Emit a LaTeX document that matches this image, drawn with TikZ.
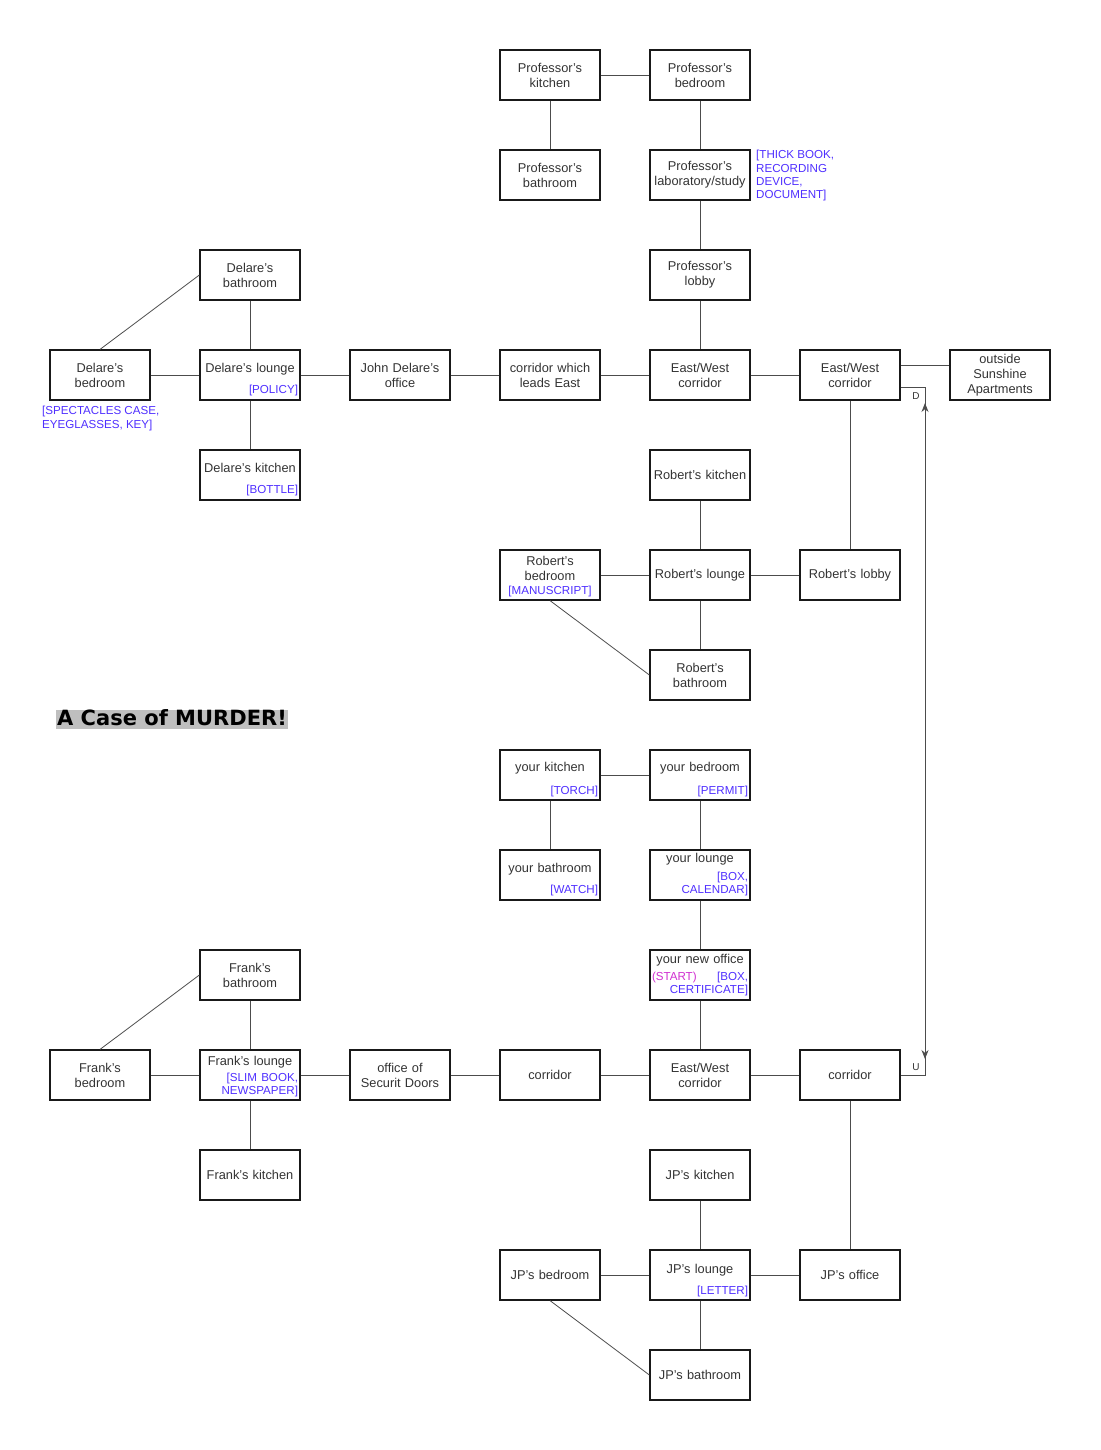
\documentclass[tikz,border=0pt]{standalone}
\usepackage{fontspec}
\setmainfont{Liberation Sans}
\newfontfamily\titlefont{DejaVu Sans}
\usetikzlibrary{arrows.meta}
\definecolor{itemblue}{HTML}{4F2FFF}
\definecolor{startpink}{HTML}{D030D0}
\newcommand{\namefont}{\fontsize{12.8}{15}\selectfont}
\newcommand{\itemfont}{\fontsize{11.6}{13.4}\selectfont}
\newcommand{\things}[1]{\hspace*{\fill}\textcolor{itemblue}{\itemfont #1}}
\newcommand{\lift}[1]{\rule{0pt}{#1pt}}

\begin{document}
\begin{tikzpicture}[x=1pt,y=-1pt,
  room/.style={draw=black!90,line width=1.2pt,minimum width=100pt,minimum height=50pt,
    text width=96pt,inner sep=2pt,align=center,text=black!80,font=\namefont},
  link/.style={draw=black!70,line width=0.8pt},
  loot/.style={text=itemblue,font=\itemfont,align=left,inner sep=0pt},
  title/.style={fill=black!25,font=\titlefont\bfseries\fontsize{21}{21}\selectfont,
    inner xsep=1pt,inner ysep=1pt,text height=15pt,text depth=2pt}]
\useasboundingbox (0,0) rectangle (1100,1450);
%\draw[help lines,step=50] (0,0) grid (1100,1450);

% upper block
\node[room] (pk) at (550,75) {Professor's\\kitchen};
\node[room] (pb) at (700,75) {Professor's\\bedroom};
\node[room] (pba) at (550,175) {Professor's\\bathroom};
\node[room] (plab) at (700,175) {Professor's\\laboratory/study};
\node[loot,anchor=north west] (plabx) at (756,150) {[THICK BOOK,\\RECORDING\\DEVICE,\\DOCUMENT]};
\node[room] (plob) at (700,275) {Professor's\\lobby};
\node[room] (dba) at (250,275) {Delare's\\bathroom};
\node[room] (dbed) at (100,375) {Delare's\\bedroom};
\node[loot,anchor=north west] (dbedx) at (42,406) {[SPECTACLES CASE,\\EYEGLASSES, KEY]};
\node[room] (dl) at (250,375) {\lift{19}Delare's lounge\\[6pt]\things{[POLICY]}};
\node[room] (jdo) at (400,375) {John Delare's\\office};
\node[room] (ce) at (550,375) {corridor which\\leads East};
\node[room] (ew1) at (700,375) {East/West\\corridor};
\node[room] (ew2) at (850,375) {East/West\\corridor};
\node[room] (out) at (1000,375) {outside\\Sunshine\\Apartments};
\node[room] (dk) at (250,475) {\lift{19}Delare's kitchen\\[6pt]\things{[BOTTLE]}};
\node[room] (rk) at (700,475) {Robert's kitchen};
\node[room] (rbed) at (550,575) {\lift{13}Robert's\\bedroom\\[-1pt]\textcolor{itemblue}{\itemfont[MANUSCRIPT]}};
\node[room] (rl) at (700,575) {Robert's lounge};
\node[room] (rlob) at (850,575) {Robert's lobby};
\node[room] (rba) at (700,675) {Robert's\\bathroom};

\draw[link] (pk) -- (pb);
\draw[link] (pk) -- (pba);
\draw[link] (pb) -- (plab) -- (plob) -- (ew1);
\draw[link] (dbed.north) -- (dba.west);
\draw[link] (dba) -- (dl) -- (dk);
\draw[link] (dbed) -- (dl) -- (jdo) -- (ce) -- (ew1) -- (ew2);
\draw[link] ([yshift=10pt]ew2.east) -- ([yshift=10pt]ew2.east -| out.west);
\draw[link] (ew2) -- (rlob);
\draw[link] (rk) -- (rl) -- (rba);
\draw[link] (rbed) -- (rl) -- (rlob);
\draw[link] (rbed.south) -- (rba.west);

\node[title] (ttl) at (172,719) {A Case of MURDER!};

% lower block
\node[room] (yk) at (550,775) {\lift{19}your kitchen\\[8pt]\things{[TORCH]}};
\node[room] (yb) at (700,775) {\lift{19}your bedroom\\[8pt]\things{[PERMIT]}};
\node[room] (yba) at (550,875) {\lift{19}your bathroom\\[6pt]\things{[WATCH]}};
\node[room] (yl) at (700,875) {your lounge\\[3pt]\things{[BOX,}\\[-2pt]\things{CALENDAR]}};
\node[room] (yo) at (700,975) {your new office\\[2pt]\textcolor{startpink}{\itemfont(START)}\hfill\textcolor{itemblue}{\itemfont[BOX,}\\[-2pt]\things{CERTIFICATE]}};
\node[room] (fba) at (250,975) {Frank's\\bathroom};
\node[room] (fbed) at (100,1075) {Frank's\\bedroom};
\node[room] (fl) at (250,1075) {\lift{13}Frank's lounge\\[1pt]\things{[SLIM BOOK,}\\[-2pt]\things{NEWSPAPER]}};
\node[room] (sd) at (400,1075) {office of\\Securit Doors};
\node[room] (c1) at (550,1075) {corridor};
\node[room] (ew3) at (700,1075) {East/West\\corridor};
\node[room] (c2) at (850,1075) {corridor};
\node[room] (fk) at (250,1175) {Frank's kitchen};
\node[room] (jk) at (700,1175) {JP's kitchen};
\node[room] (jbed) at (550,1275) {JP's bedroom};
\node[room] (jl) at (700,1275) {\lift{20}JP's lounge\\[6pt]\things{[LETTER]}};
\node[room] (jo) at (850,1275) {JP's office};
\node[room] (jba) at (700,1375) {JP's bathroom};

\draw[link] (yk) -- (yb);
\draw[link] (yk) -- (yba);
\draw[link] (yb) -- (yl) -- (yo) -- (ew3);
\draw[link] (fbed.north) -- (fba.west);
\draw[link] (fba) -- (fl) -- (fk);
\draw[link] (fbed) -- (fl) -- (sd) -- (c1) -- (ew3) -- (c2);
\draw[link] (c2) -- (jo);
\draw[link] (jk) -- (jl) -- (jba);
\draw[link] (jbed) -- (jl) -- (jo);
\draw[link] (jbed.south) -- (jba.west);

% stairs between the two floors
\coordinate (dbend) at (925,387);
\coordinate (ubend) at (925,1075);
\draw[link] ([yshift=-12pt]ew2.east) -- (dbend) -- (ubend) -- (c2.east);
\draw[link,{Stealth[length=9pt,width=7pt]}-{Stealth[length=9pt,width=7pt]}] ([yshift=-16pt]dbend) -- ([yshift=16pt]ubend);
\node[font=\fontsize{10}{10}\selectfont,text=black!80] (dn) at ([xshift=-9pt,yshift=-9pt]dbend) {D};
\node[font=\fontsize{10}{10}\selectfont,text=black!80] (up) at ([xshift=-9pt,yshift=8pt]ubend) {U};
\end{tikzpicture}
\end{document}
